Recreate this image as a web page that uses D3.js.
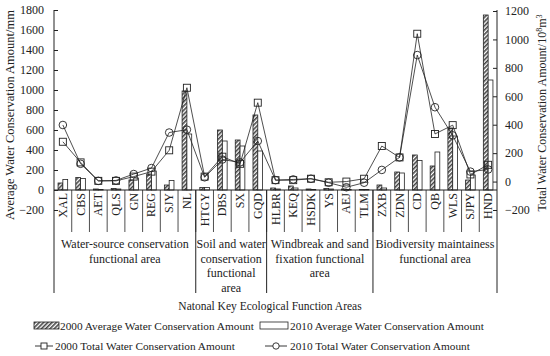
<!DOCTYPE html>
<html>
<head>
<meta charset="utf-8">
<script src="https://cdn.jsdelivr.net/npm/d3@7"></script>
<style>
  body { margin: 0; background: #fff; }
  text { font-family: "Liberation Serif", "Times New Roman", serif; fill: #222; }
</style>
</head>
<body>
<script>
var WIDTH = 550;
var HEIGHT = 356;

var categories = ['XAL', 'CBS', 'AET', 'QLS', 'GN', 'REG', 'SJY', 'NL',
    'HTGY', 'DBS', 'SX', 'GQD',
    'HLBR', 'KEQ', 'HSDK', 'YS', 'AEJ', 'TLM',
    'ZXB', 'ZDN', 'CD', 'QB', 'WLS', 'SJPY', 'HND'];

var groupNames = [
    ['Water-source conservation', 'functional area'],
    ['Soil and water', 'conservation', 'functional', 'area'],
    ['Windbreak and sand', 'fixation functional', 'area'],
    ['Biodiversity maintainess', 'functional area']
];
var groupSizes = [8, 4, 6, 7];

// average water conservation, mm (left axis)
var avg2000 = [70, 125, 10, 15, 100, 160, 50, 990, 25, 600, 500, 750, 20, 40, 10, 15, 10, 5, 50, 180, 350, 240, 620, 100, 1750];
var avg2010 = [105, 115, 5, 10, 120, 190, 95, 560, 25, 490, 440, 390, 10, 20, 5, 10, 5, 5, 20, 170, 295, 380, 540, 150, 1100];

// total water conservation, 10^8 m3 (right axis)
var total2000 = [280, 135, 5, 5, 35, 70, 220, 660, 35, 175, 125, 555, 10, 10, 20, -5, 0, 20, 250, 170, 1040, 335, 397, 50, 118];
var total2010 = [398, 125, 5, 8, 53, 95, 345, 365, 30, 155, 135, 285, 10, 15, 20, -8, -40, -8, 82, 170, 890, 523, 325, 70, 85];

var leftTicks = d3.range(-200, 1801, 200);
var rightTicks = d3.range(-200, 1201, 200);

var X0 = 54, X1 = 497, Y_TOP = 10, Y_BOT = 210, Y_LINE_END = 293;
var FONT = '12px';

var x = d3.scaleBand().domain(categories).range([X0, X1]);
var yLeft = d3.scaleLinear().domain([-200, 1800]).range([Y_BOT, Y_TOP]);
var yRight = d3.scaleLinear().domain([-200, 1200]).range([Y_BOT, Y_TOP + 1]);

var svg = d3.select('body').append('svg')
    .attr('width', WIDTH)
    .attr('height', HEIGHT);

var defs = svg.append('defs');
var hatch = defs.append('pattern')
    .attr('id', 'hatch')
    .attr('patternUnits', 'userSpaceOnUse')
    .attr('width', 3)
    .attr('height', 3)
    .attr('patternTransform', 'rotate(45)');
hatch.append('rect').attr('width', 3).attr('height', 3).attr('fill', '#fff');
hatch.append('rect').attr('width', 1.6).attr('height', 3).attr('fill', '#444');

var baseY = yLeft(0);
var barW = 4.8;

// bars
var bars = svg.append('g');
bars.selectAll('rect.b2000')
    .data(avg2000)
    .enter()
    .append('rect')
    .attr('class', 'b2000')
    .attr('x', function (d, i) { return x(categories[i]) + x.bandwidth() / 2 - barW; })
    .attr('y', function (d) { return Math.min(yLeft(d), baseY); })
    .attr('width', barW)
    .attr('height', function (d) { return Math.abs(yLeft(d) - baseY); })
    .attr('fill', 'url(#hatch)')
    .attr('stroke', '#222')
    .attr('stroke-width', 0.8);

bars.selectAll('rect.b2010')
    .data(avg2010)
    .enter()
    .append('rect')
    .attr('class', 'b2010')
    .attr('x', function (d, i) { return x(categories[i]) + x.bandwidth() / 2; })
    .attr('y', function (d) { return Math.min(yLeft(d), baseY); })
    .attr('width', barW)
    .attr('height', function (d) { return Math.abs(yLeft(d) - baseY); })
    .attr('fill', '#fff')
    .attr('stroke', '#222')
    .attr('stroke-width', 0.8);

// x axis line and category separators
svg.append('line')
    .attr('x1', X0).attr('x2', X1)
    .attr('y1', baseY).attr('y2', baseY)
    .attr('stroke', '#222').attr('stroke-width', 1);

svg.selectAll('line.cat-sep')
    .data(categories.slice(1))
    .enter()
    .append('line')
    .attr('class', 'cat-sep')
    .attr('x1', function (d) { return x(d); })
    .attr('x2', function (d) { return x(d); })
    .attr('y1', baseY)
    .attr('y2', 232)
    .attr('stroke', '#222')
    .attr('stroke-width', 0.8);

svg.selectAll('text.cat')
    .data(categories)
    .enter()
    .append('text')
    .attr('class', 'cat')
    .attr('transform', function (d) {
        return 'translate(' + (x(d) + x.bandwidth() / 2 + 4) + ',' + (baseY + 3) + ') rotate(-90)';
    })
    .attr('text-anchor', 'end')
    .style('font-size', FONT)
    .text(function (d) { return d; });

// group separators and labels
var cum = 0;
var groupStarts = groupSizes.map(function (n) { var s = cum; cum += n; return s; });
svg.selectAll('line.grp-sep')
    .data(groupStarts.slice(1))
    .enter()
    .append('line')
    .attr('class', 'grp-sep')
    .attr('x1', function (s) { return x(categories[s]); })
    .attr('x2', function (s) { return x(categories[s]); })
    .attr('y1', baseY)
    .attr('y2', Y_LINE_END)
    .attr('stroke', '#222')
    .attr('stroke-width', 1);

groupNames.forEach(function (lines, gi) {
    var s = groupStarts[gi];
    var e = s + groupSizes[gi] - 1;
    var cx = (x(categories[s]) + x(categories[e]) + x.bandwidth()) / 2;
    var t = svg.append('text')
        .attr('text-anchor', 'middle')
        .style('font-size', FONT);
    lines.forEach(function (ln, li) {
        t.append('tspan').attr('x', cx).attr('y', 248 + li * 14.6).text(ln);
    });
});

// left axis
var leftAxis = svg.append('g')
    .attr('transform', 'translate(' + X0 + ',0)')
    .call(d3.axisRight(yLeft).tickValues(leftTicks).tickSize(4).tickFormat(d3.format('d')));
leftAxis.select('.domain').remove();
leftAxis.selectAll('line').attr('stroke', '#222');
leftAxis.selectAll('text')
    .attr('x', -10)
    .attr('text-anchor', 'end')
    .style('font-size', FONT)
    .style('font-family', '"Liberation Serif", serif')
    .attr('fill', '#222');
svg.append('line')
    .attr('x1', X0).attr('x2', X0)
    .attr('y1', Y_TOP).attr('y2', Y_LINE_END)
    .attr('stroke', '#222').attr('stroke-width', 1);

// right axis
var rightAxis = svg.append('g')
    .attr('transform', 'translate(' + X1 + ',0)')
    .call(d3.axisLeft(yRight).tickValues(rightTicks).tickSize(4).tickFormat(d3.format('d')));
rightAxis.select('.domain').remove();
rightAxis.selectAll('line').attr('stroke', '#222');
rightAxis.selectAll('text')
    .attr('x', 8)
    .attr('text-anchor', 'start')
    .style('font-size', FONT)
    .style('font-family', '"Liberation Serif", serif')
    .attr('fill', '#222');
svg.append('line')
    .attr('x1', X1).attr('x2', X1)
    .attr('y1', Y_TOP).attr('y2', Y_LINE_END)
    .attr('stroke', '#222').attr('stroke-width', 1);

// axis titles
svg.append('text')
    .attr('transform', 'translate(14,115) rotate(-90)')
    .attr('text-anchor', 'middle')
    .style('font-size', '12.5px')
    .text('Average Water Conservation Amount/mm');

var rt = svg.append('text')
    .attr('transform', 'translate(546,113) rotate(-90)')
    .attr('text-anchor', 'middle')
    .style('font-size', FONT);
rt.append('tspan').text('Total Water Conservation Amount/10');
rt.append('tspan').attr('dy', -4).style('font-size', '8px').text('8');
rt.append('tspan').attr('dy', 4).text('m');
rt.append('tspan').attr('dy', -4).style('font-size', '8px').text('3');

svg.append('text')
    .attr('x', 270)
    .attr('y', 310)
    .attr('text-anchor', 'middle')
    .style('font-size', '11.5px')
    .text('Natonal Key Ecological Function Areas');

// lines (right axis)
var cx = function (d, i) { return x(categories[i]) + x.bandwidth() / 2; };
var lineGen = d3.line()
    .x(cx)
    .y(function (d) { return yRight(d); });

svg.append('path')
    .attr('d', lineGen(total2000))
    .attr('fill', 'none')
    .attr('stroke', '#222')
    .attr('stroke-width', 0.8);
svg.append('path')
    .attr('d', lineGen(total2010))
    .attr('fill', 'none')
    .attr('stroke', '#222')
    .attr('stroke-width', 0.8);

svg.selectAll('rect.m2000')
    .data(total2000)
    .enter()
    .append('rect')
    .attr('class', 'm2000')
    .attr('x', function (d, i) { return cx(d, i) - 3.5; })
    .attr('y', function (d) { return yRight(d) - 3.5; })
    .attr('width', 7)
    .attr('height', 7)
    .attr('fill', 'none')
    .attr('stroke', '#222')
    .attr('stroke-width', 0.9);

svg.selectAll('circle.m2010')
    .data(total2010)
    .enter()
    .append('circle')
    .attr('class', 'm2010')
    .attr('cx', cx)
    .attr('cy', function (d) { return yRight(d); })
    .attr('r', 3.8)
    .attr('fill', 'none')
    .attr('stroke', '#222')
    .attr('stroke-width', 0.9);

// legend
var LEG_FONT = '11.3px';
var legend = svg.append('g');
legend.append('rect')
    .attr('x', 34).attr('y', 322).attr('width', 25).attr('height', 7)
    .attr('fill', 'url(#hatch)').attr('stroke', '#222').attr('stroke-width', 0.8);
legend.append('text')
    .attr('x', 60).attr('y', 330)
    .style('font-size', LEG_FONT)
    .text('2000 Average Water Conservation Amount');
legend.append('rect')
    .attr('x', 260).attr('y', 322).attr('width', 28).attr('height', 7)
    .attr('fill', '#fff').attr('stroke', '#222').attr('stroke-width', 0.8);
legend.append('text')
    .attr('x', 290).attr('y', 330)
    .style('font-size', LEG_FONT)
    .text('2010 Average Water Conservation Amount');

legend.append('line')
    .attr('x1', 35).attr('x2', 53).attr('y1', 346).attr('y2', 346)
    .attr('stroke', '#222').attr('stroke-width', 0.9);
legend.append('rect')
    .attr('x', 41).attr('y', 343).attr('width', 6).attr('height', 6)
    .attr('fill', '#fff').attr('stroke', '#222').attr('stroke-width', 0.9);
legend.append('text')
    .attr('x', 55).attr('y', 350)
    .style('font-size', LEG_FONT)
    .text('2000 Total Water Conservation Amount');

legend.append('line')
    .attr('x1', 265).attr('x2', 287).attr('y1', 346).attr('y2', 346)
    .attr('stroke', '#222').attr('stroke-width', 0.9);
legend.append('circle')
    .attr('cx', 276).attr('cy', 346).attr('r', 3.2)
    .attr('fill', '#fff').attr('stroke', '#222').attr('stroke-width', 0.9);
legend.append('text')
    .attr('x', 290).attr('y', 350)
    .style('font-size', LEG_FONT)
    .text('2010 Total Water Conservation Amount');
</script>
</body>
</html>
